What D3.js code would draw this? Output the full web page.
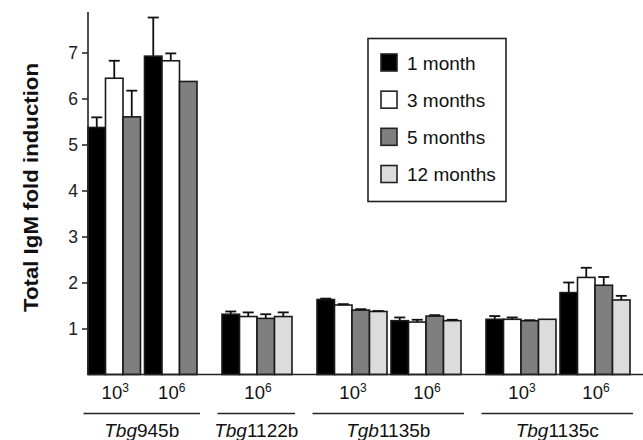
<!DOCTYPE html>
<html>
<head>
<meta charset="utf-8">
<script src="https://cdn.jsdelivr.net/npm/d3@7"></script>
<style>
  html, body { margin: 0; padding: 0; background: #fff; }
  svg { display: block; font-family: "Liberation Sans", Arial, Helvetica, sans-serif; }
</style>
</head>
<body>
<svg id="chart" width="643" height="440"></svg>
<script>
// ---- data ----
const series = ["1 month", "3 months", "5 months", "12 months"];
const seriesColors = ["#000000", "#ffffff", "#7f7f7f", "#dcdcdc"];

const groups = [
  { italic: "Tbg", rest: "945b" },
  { italic: "Tbg", rest: "1122b" },
  { italic: "Tgb", rest: "1135b" },
  { italic: "Tbg", rest: "1135c" }
];

// each cluster: group index, dose exponent
const clusterGroup = [0, 0, 1, 2, 2, 3, 3];
const clusterDose  = ["3", "6", "6", "3", "6", "3", "6"];

// mean values per cluster (order: 1, 3, 5, 12 months); null = not measured
const means = [
  [5.37, 6.44, 5.60, null],
  [6.92, 6.82, 6.37, null],
  [1.31, 1.26, 1.22, 1.26],
  [1.63, 1.51, 1.40, 1.37],
  [1.17, 1.14, 1.27, 1.17],
  [1.20, 1.20, 1.17, 1.20],
  [1.78, 2.11, 1.94, 1.62]
];
// upper error (SEM)
const errors = [
  [0.22, 0.38, 0.57, null],
  [0.84, 0.16, 0.00, null],
  [0.06, 0.09, 0.09, 0.09],
  [0.02, 0.02, 0.02, 0.01],
  [0.07, 0.05, 0.02, 0.02],
  [0.07, 0.04, 0.01, 0.00],
  [0.22, 0.21, 0.18, 0.09]
];

const yTicks = [1, 2, 3, 4, 5, 6, 7];

// ---- layout ----
const svg = d3.select("#chart");
const axisX = 88;
const baseY = 374.5;
const barW = 17.5, innerGap = 4, outerGap = 25;

const y = d3.scaleLinear().domain([0, 7.88]).range([baseY, 12]);

// build slot positions in layout units (px offsets from the axis)
const bars = [];
const clusters = [];
let pos = 0;
means.forEach((row, ci) => {
  if (ci > 0) pos += (clusterGroup[ci] === clusterGroup[ci - 1]) ? innerGap : outerGap;
  const start = pos;
  row.forEach((v, si) => {
    if (v === null) return;
    bars.push({ ci, si, v, e: errors[ci][si], x0: pos });
    pos += barW;
  });
  clusters.push({ ci, start, end: pos });
});
const x = d3.scaleLinear().domain([0, 1]).range([axisX, axisX + 1]);

// ---- bars ----
const gBars = svg.append("g");
gBars.selectAll("rect").data(bars).enter().append("rect")
  .attr("x", d => x(d.x0))
  .attr("y", d => y(d.v))
  .attr("width", barW)
  .attr("height", d => y(0) - y(d.v))
  .attr("fill", d => seriesColors[d.si])
  .attr("stroke", "#1a1a1a")
  .attr("stroke-width", 1.6);

// ---- error bars ----
const capW = 11;
const gErr = svg.append("g").attr("stroke", "#111").attr("stroke-width", 1.8);
bars.filter(d => d.e !== null && d.e > 0).forEach(d => {
  const cx = x(d.x0 + barW / 2);
  gErr.append("line").attr("x1", cx).attr("x2", cx).attr("y1", y(d.v)).attr("y2", y(d.v + d.e));
  gErr.append("line").attr("x1", cx - capW / 2).attr("x2", cx + capW / 2)
    .attr("y1", y(d.v + d.e)).attr("y2", y(d.v + d.e));
});

// ---- axes ----
const yAxis = d3.axisLeft(y).tickValues(yTicks).tickSize(6).tickPadding(4).tickFormat(d3.format("d"));
const gY = svg.append("g").attr("transform", `translate(${axisX},0)`).call(yAxis);
gY.select(".domain").remove();
gY.selectAll(".tick line").attr("stroke", "#222").attr("stroke-width", 1.5);
gY.selectAll(".tick text").attr("font-size", 17.5).attr("fill", "#222")
  .attr("font-family", "'Liberation Sans', Arial, sans-serif");
svg.append("line").attr("x1", axisX).attr("x2", axisX).attr("y1", y(0)).attr("y2", y(7.88))
  .attr("stroke", "#222").attr("stroke-width", 1.6);
svg.append("line").attr("x1", axisX).attr("x2", 643).attr("y1", y(0)).attr("y2", y(0))
  .attr("stroke", "#222").attr("stroke-width", 1.6);

// ---- y label ----
svg.append("text")
  .attr("transform", `translate(37.5,187.5) rotate(-90)`)
  .attr("text-anchor", "middle")
  .attr("font-size", 19.5).attr("font-weight", "bold").attr("fill", "#111")
  .attr("textLength", 249).attr("lengthAdjust", "spacingAndGlyphs")
  .text("Total IgM fold induction");

// ---- dose labels ----
clusters.forEach(c => {
  const cx = x((c.start + c.end) / 2);
  const t = svg.append("text").attr("x", cx + 1).attr("y", 399)
    .attr("text-anchor", "middle").attr("font-size", 18.5).attr("fill", "#111");
  t.append("tspan").text("10");
  t.append("tspan").attr("font-size", 12).attr("dy", -7).text(clusterDose[c.ci]);
});

// ---- group lines & labels ----
groups.forEach((g, gi) => {
  const cs = clusters.filter(c => clusterGroup[c.ci] === gi);
  const s = x(d3.min(cs, c => c.start)) - 4.5;
  const e = x(d3.max(cs, c => c.end)) + 3;
  svg.append("line").attr("x1", s).attr("x2", e).attr("y1", 413.5).attr("y2", 413.5)
    .attr("stroke", "#222").attr("stroke-width", 1.6);
  const t = svg.append("text").attr("x", (s + e) / 2).attr("y", 437)
    .attr("text-anchor", "middle").attr("font-size", 19).attr("fill", "#111");
  t.append("tspan").attr("font-style", "italic").text(g.italic);
  t.append("tspan").text(g.rest);
});

// ---- legend ----
const lg = svg.append("g");
lg.append("rect").attr("x", 368).attr("y", 38.5).attr("width", 138).attr("height", 163)
  .attr("fill", "#fff").attr("stroke", "#222").attr("stroke-width", 1.6);
const rowY = d3.scalePoint().domain(series).range([62.5, 174]);
series.forEach((s, i) => {
  lg.append("rect").attr("x", 381).attr("y", rowY(s) - 8.5).attr("width", 16).attr("height", 17)
    .attr("fill", seriesColors[i]).attr("stroke", "#222").attr("stroke-width", 1.6);
  lg.append("text").attr("x", 407).attr("y", rowY(s) + 7).attr("font-size", 19).attr("fill", "#111")
    .text(s);
});
</script>
</body>
</html>
